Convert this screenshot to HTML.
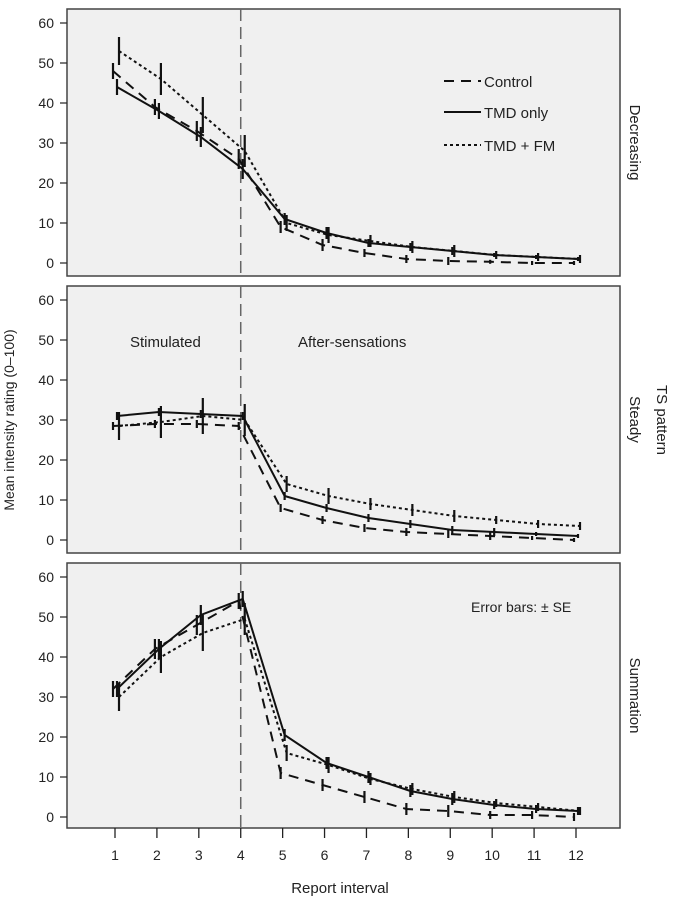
<!DOCTYPE html>
<html><head><meta charset="utf-8"><style>
body{margin:0;background:#fff;}
svg{display:block;font-family:"Liberation Sans",sans-serif;}
</style></head><body>
<svg id="chart" width="681" height="899"></svg>
<script>
const intervals=[1,2,3,4,5,6,7,8,9,10,11,12];
const yTicks=[0,10,20,30,40,50,60];
const panelNames=["Decreasing","Steady","Summation"];
const decControl=[48,39,33,26,9,4.5,2.5,1,0.5,0.3,0,0];
const decTmd=[44,38,31.5,23.5,11,7.5,5,4,3,2,1.5,1];
const decFm=[53,46,37,28,10,7,5.5,4,3,2,1.5,1];
const steControl=[28.5,29,29,28.5,8,5,3,2,1.5,1,0.5,0];
const steTmd=[31,32,31.5,31,11,8,5.5,4,2.5,2,1.5,1];
const steFm=[28.5,29.5,31,30,14,11,9,7.5,6,5,4,3.5];
const sumControl=[32,42,48,54,11,8,5,2,1.5,0.5,0.5,0];
const sumTmd=[32,42,50.5,54.5,20.5,13.5,10,6.5,4.5,3,2,1.5];
const sumFm=[30,40,46,49.5,16,13,9.5,7,5,3.5,2.5,1.5];
const decSE=[2,2,2.5,2.5,1.5,1.5,1,1,1,0.5,0.5,0.5];
const steSE=[1,1,1,1,1,1,1,1,1,1,0.5,0.5];
const sumSE=[2,2.5,2.5,2,1.5,1.5,1.5,1.5,1.5,1,1,1];
const fmSE=[3.5,4,4.5,4,2,2,1.5,1.5,1.5,1,1,1];

const NS="http://www.w3.org/2000/svg";
const svg=document.getElementById('chart');
function el(t,a,p){const e=document.createElementNS(NS,t);for(const k in a)e.setAttribute(k,a[k]);(p||svg).appendChild(e);return e;}
const L=67,R=620;
const panels=[{top:9,bot:276},{top:286,bot:553},{top:563,bot:828}];
const xs=v=>115+(v-1)*(576-115)/11;
const data=[[decControl,decTmd,decFm,decSE],[steControl,steTmd,steFm,steSE],[sumControl,sumTmd,sumFm,sumSE]];
const styles=[{dash:"10,7",w:2,off:-2},{dash:"",w:2,off:2},{dash:"3,3",w:2,off:4}];
const names=["control","tmd-only","tmd-fm"];
panels.forEach((p,i)=>{
  const g=el('g',{});
  
  
  const y0=p.top+254, y60=p.top+14;
  const ys=v=>y0-(v/60)*(y0-y60);
  const bg=el('rect',{x:L,y:p.top,width:R-L,height:p.bot-p.top,fill:'#f0f0f0',stroke:'#444','stroke-width':1.5},g);
  
  
  yTicks.forEach(t=>{
    el('line',{x1:60,x2:L,y1:ys(t),y2:ys(t),stroke:'#222','stroke-width':1.2},g);
    const tx=el('text',{x:54,y:ys(t)+5,'text-anchor':'end','font-size':14,fill:'#222'},g);
    tx.textContent=t;
    
    
  });
  const vl=el('line',{x1:xs(4),x2:xs(4),y1:p.top,y2:p.bot,stroke:'#666','stroke-width':1.5,'stroke-dasharray':'12,6'},g);
  
  
  const d=data[i];
  for(let s=0;s<3;s++){
    const vals=d[s], se=s===2?fmSE:d[3], st=styles[s];
    const pts=vals.map((v,k)=>(xs(intervals[k])+st.off)+','+ys(v)).join(' ');
    const pl=el('polyline',{points:pts,fill:'none',stroke:'#111','stroke-width':st.w,'stroke-dasharray':st.dash},g);
    
    
    vals.forEach((v,k)=>{
      const x=xs(intervals[k])+st.off;
      const eb=el('line',{x1:x,x2:x,y1:ys(v+se[k]),y2:ys(v-se[k]),stroke:'#111','stroke-width':2.2},g);
      
      
    });
  }
  const pn=el('text',{transform:`translate(630,${(p.top+p.bot)/2}) rotate(90)`,'text-anchor':'middle','font-size':15,fill:'#222'},g);
  pn.textContent=panelNames[i];
  
  
});
const leg=el('g',{});


const legItems=[["Control","10,7",81],["TMD only","",112],["TMD + FM","3,3",145]];
legItems.forEach(it=>{
  el('line',{x1:444,x2:481,y1:it[2],y2:it[2],stroke:'#111','stroke-width':2,'stroke-dasharray':it[1]},leg);
  const t=el('text',{x:484,y:it[2]+6,'font-size':15,fill:'#222'},leg);
  t.textContent=it[0];
  
  
});
function txt(x,y,s,name,attrs){const t=el('text',Object.assign({x:x,y:y,'font-size':15,fill:'#222'},attrs||{}));t.textContent=s;return t;}
txt(130,347,"Stimulated","stimulated-label");
txt(298,347,"After-sensations","after-sensations-label");
txt(471,612,"Error bars: ± SE","error-bars-note",{'font-size':14});
intervals.forEach(v=>{
  el('line',{x1:xs(v),x2:xs(v),y1:828,y2:838,stroke:'#222','stroke-width':1.3});
  txt(xs(v),860,String(v),"x-tick-label",{'text-anchor':'middle','font-size':14});
});
txt(340,893,"Report interval","x-axis-title",{'text-anchor':'middle'});
txt(0,0,"Mean intensity rating (0–100)","y-axis-title",{transform:'translate(14,420) rotate(-90)','text-anchor':'middle','font-size':14});
txt(0,0,"TS pattern","right-axis-title",{transform:'translate(657,420) rotate(90)','text-anchor':'middle'});
</script>
</body></html>
